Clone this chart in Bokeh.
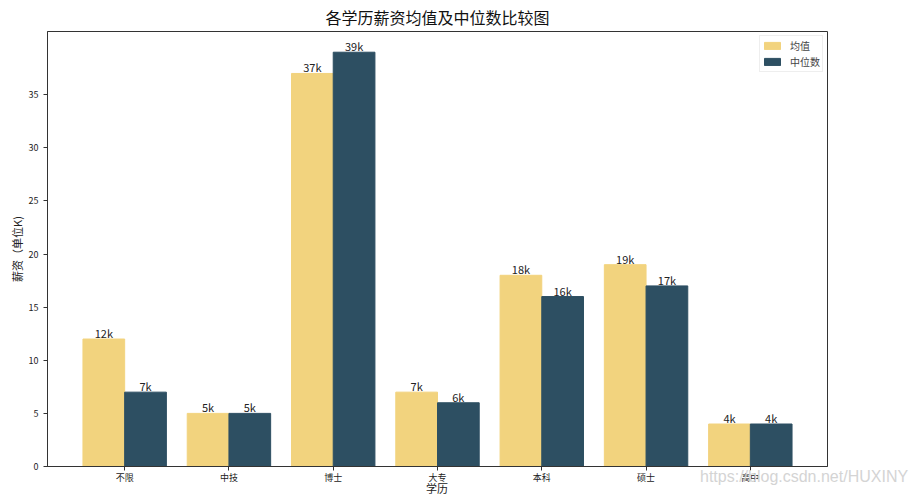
from bokeh.plotting import figure
from bokeh.models import Range1d, FixedTicker, ColumnDataSource, Legend, LegendItem, Div
from bokeh.embed import file_html
from bokeh.resources import INLINE
from bokeh.core.properties import value

categories = ["不限", "中技", "博士", "大专", "本科", "硕士", "高中"]
mean_vals = [12, 5, 37, 7, 18, 19, 4]
median_vals = [7, 5, 39, 6, 16, 17, 4]
y_ticks = [0, 5, 10, 15, 20, 25, 30, 35]
x_label = "学历"
watermark = "https://blog.csdn.net/HUXINY"

FONT = "Noto Sans CJK SC"
TIGHT = "Liberation Sans, Noto Sans CJK SC"
YELLOW = "#F2D37E"
BLUE = "#2D4F62"

xs = list(range(len(categories)))
src_mean = ColumnDataSource(dict(x=[i - 0.2 for i in xs], top=mean_vals,
                                 lab=[f"{v}k" for v in mean_vals]))
src_med = ColumnDataSource(dict(x=[i + 0.2 for i in xs], top=median_vals,
                                lab=[f"{v}k" for v in median_vals]))

p = figure(width=916, height=496, output_backend="svg", toolbar_location=None,
           x_range=Range1d(-0.74, 6.74), y_range=Range1d(0, 40.95),
           min_border_left=47, min_border_right=89, min_border_bottom=30, min_border_top=10)

p.title.text = "各学历薪资均值及中位数比较图"
p.title.align = "center"
p.title.text_font = FONT
p.title.text_font_size = "16px"
p.title.text_font_style = "normal"
p.title.text_color = "#111111"
p.title.standoff = 5

r1 = p.vbar(x="x", top="top", width=0.4, source=src_mean, color=YELLOW)
r2 = p.vbar(x="x", top="top", width=0.4, source=src_med, color=BLUE)

for src in (src_mean, src_med):
    p.text(x="x", y="top", text="lab", source=src, text_align="center",
           text_baseline="bottom", y_offset=2, text_font=value(FONT),
           text_font_size="11px", text_color="#222222")

legend = Legend(items=[LegendItem(label="均值", renderers=[r1]),
                       LegendItem(label="中位数", renderers=[r2])],
                location="top_right", label_text_font=FONT, label_text_font_size="10px",
                glyph_height=9, glyph_width=20, spacing=1, padding=2, margin=4,
                label_standoff=8, border_line_color="#dddddd", label_height=10,
                background_fill_alpha=0.9)
p.add_layout(legend)

p.xaxis.ticker = FixedTicker(ticks=xs)
p.xaxis.major_label_overrides = {i: c for i, c in enumerate(categories)}
p.yaxis.ticker = FixedTicker(ticks=y_ticks)
for ax in (p.xaxis, p.yaxis):
    ax.major_label_text_font = FONT
    ax.major_label_text_font_size = "9px"
    ax.major_label_text_color = "#222222"
    ax.axis_line_color = "#333333"
    ax.major_tick_line_color = "#333333"
    ax.minor_tick_line_color = None
    ax.major_tick_out = 4
    ax.major_tick_in = 0
    ax.axis_label_text_font = FONT
    ax.axis_label_text_font_size = "11px"
    ax.axis_label_text_font_style = "normal"
    ax.axis_label_text_color = "#222222"
p.xaxis.major_label_text_font = TIGHT
p.xaxis.major_label_standoff = 2
p.yaxis.axis_label = "薪资（单位K)"
p.yaxis.axis_label_standoff = 1

p.xgrid.visible = False
p.ygrid.visible = False
p.outline_line_color = "#333333"
p.outline_line_alpha = 1

xlab = Div(text=x_label, styles={"position": "absolute", "left": "407px", "top": "482px",
                                 "width": "60px", "text-align": "center",
                                 "font-family": FONT, "font-size": "11px",
                                 "line-height": "12px", "color": "#222222",
                                 "white-space": "nowrap", "pointer-events": "none"})
wm = Div(text=watermark, styles={"position": "absolute", "left": "700px", "top": "466px",
                                 "font-family": "Liberation Sans", "font-size": "16px",
                                 "color": "#d4d4d4", "white-space": "nowrap",
                                 "pointer-events": "none"})
try:
    p.elements = [xlab, wm]
except Exception:
    p.xaxis.axis_label = x_label

open("out.html", "w").write(file_html(p, INLINE))
